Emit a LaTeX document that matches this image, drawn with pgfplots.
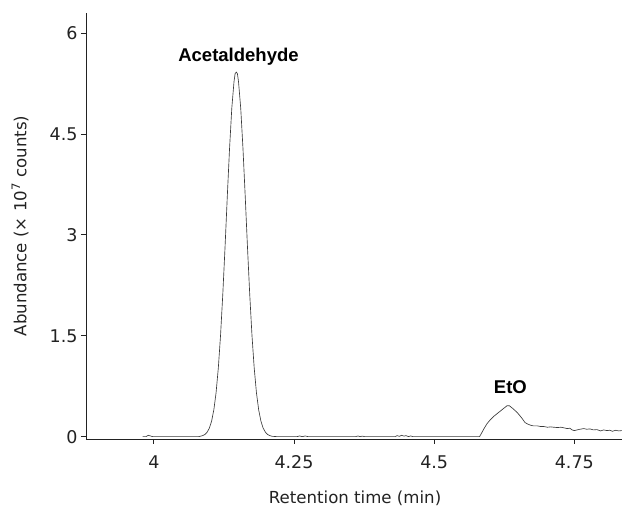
\documentclass[border=0pt]{standalone}
\usepackage{pgfplots}
\pgfplotsset{compat=1.18}
\usepackage{fontspec}
\setmainfont{DejaVu Sans}
\newfontfamily\labelfont{Liberation Sans}
\definecolor{spine}{HTML}{222222}
\definecolor{trace}{HTML}{3A3A3A}
\begin{document}
\begin{tikzpicture}[x=1pt,y=1pt]
\useasboundingbox (0,0) rectangle (622,508);
\begin{axis}[
  at={(86pt,69pt)}, anchor=south west,
  scale only axis, width=536pt, height=426pt,
  xmin=3.879, xmax=4.835, ymin=-0.035, ymax=6.3,
  axis lines*=left,
  axis line style={spine, line width=0.9pt},
  tick align=outside, major tick length=5pt,
  tick style={spine, line width=0.9pt},
  xtick={4,4.25,4.5,4.75}, ytick={0,1.5,3,4.5,6},
  /pgf/number format/assume math mode=true,
  ticklabel style={font=\fontsize{17.5}{20}\selectfont, text=spine},
  xticklabel style={yshift=-8pt},
  xlabel={Retention time (min)},
  ylabel={Abundance (× 10\textsuperscript{7} counts)},
  label style={font=\fontsize{16.6}{20}\selectfont, text=spine},
  xlabel style={at={(axis description cs:0.502,-0.14)}, anchor=center},
  ylabel style={at={(axis description cs:-0.123,0.5)}, anchor=center, rotate=0},
  clip=false,
]
\addplot[trace, line width=0.65pt] coordinates {
(3.980,0) (3.986,0) (3.990,0.02) (3.994,0.01) (3.998,0) (4.040,0) (4.080,0)
(4.087,0.015) (4.091,0.032) (4.095,0.066) (4.099,0.126) (4.103,0.230)
(4.107,0.398) (4.111,0.653) (4.115,1.02) (4.119,1.51) (4.123,2.12)
(4.127,2.82) (4.131,3.57) (4.135,4.28) (4.139,4.88) (4.143,5.28)
(4.145,5.40) (4.147,5.42) (4.149,5.40) (4.151,5.28) (4.155,4.88)
(4.159,4.28) (4.163,3.57) (4.167,2.82) (4.171,2.12) (4.175,1.51)
(4.179,1.02) (4.183,0.653) (4.187,0.398) (4.191,0.230) (4.195,0.126)
(4.199,0.066) (4.203,0.032) (4.207,0.015) (4.211,0.005)
(4.220,0) (4.255,0) (4.260,0.01) (4.265,0) (4.270,0.01) (4.275,0) (4.300,0)
(4.360,0) (4.364,0.01) (4.368,0) (4.372,0.008) (4.376,0)
(4.430,0) (4.434,0.015) (4.438,0.005) (4.442,0.02) (4.446,0.008)
(4.450,0.015) (4.454,0) (4.458,0.01) (4.462,0) (4.581,0)
(4.585,0.06) (4.589,0.12) (4.594,0.19) (4.600,0.25) (4.606,0.30)
(4.612,0.34) (4.618,0.38) (4.624,0.42) (4.630,0.46) (4.634,0.46)
(4.640,0.42) (4.648,0.36) (4.656,0.28) (4.662,0.21) (4.666,0.19)
(4.672,0.17) (4.677,0.16) (4.684,0.16) (4.690,0.15) (4.696,0.15)
(4.702,0.14) (4.708,0.145) (4.713,0.14) (4.720,0.135) (4.726,0.14)
(4.732,0.13) (4.737,0.12) (4.742,0.125) (4.746,0.10) (4.750,0.09)
(4.755,0.10) (4.760,0.11) (4.767,0.12) (4.772,0.11) (4.778,0.115)
(4.784,0.10) (4.790,0.105) (4.797,0.085) (4.802,0.10) (4.808,0.09)
(4.813,0.095) (4.818,0.08) (4.824,0.095) (4.829,0.085) (4.835,0.09)
};
\node[anchor=base, font=\labelfont\bfseries\fontsize{18.5}{22}\selectfont, text=black, inner sep=0pt] at (axis cs:4.151,5.574) {Acetaldehyde};
\node[anchor=base, font=\labelfont\bfseries\fontsize{18.5}{22}\selectfont, text=black, inner sep=0pt] at (axis cs:4.636,0.639) {EtO};
\end{axis}
\end{tikzpicture}
\end{document}
